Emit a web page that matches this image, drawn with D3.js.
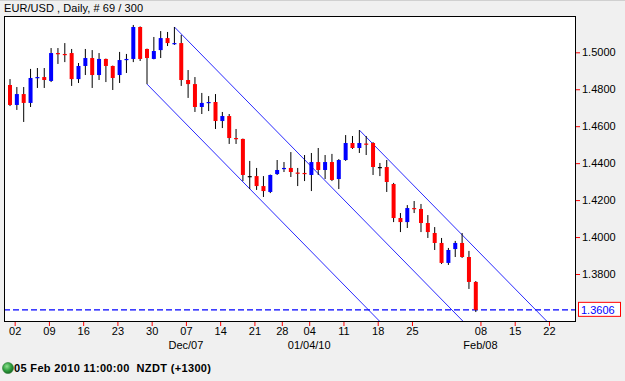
<!DOCTYPE html>
<html><head><meta charset="utf-8">
<script src="https://cdn.jsdelivr.net/npm/d3@7"></script>
<style>
html,body{margin:0;padding:0;background:#f0f0f0;}
svg{display:block;font-family:"Liberation Sans",Arial,sans-serif;}
</style></head><body>
<svg id="chart" width="625" height="381"></svg>
<script>
const title = "EUR/USD , Daily, # 69 / 300";
const footerText = "05 Feb 2010 11:00:00  NZDT (+1300)";
const opens = [1.4823,1.4715,1.4774,1.4726,1.4864,1.4866,1.4845,1.4996,1.4991,1.4996,
1.4855,1.4926,1.4969,1.4877,1.4964,1.4926,1.4877,1.4961,1.4964,1.5137,
1.5018,1.4964,1.5012,1.5077,1.5048,1.5050,1.4850,1.4828,1.4704,1.4728,
1.4731,1.4628,1.4655,1.4536,1.4531,1.4330,1.4330,1.4276,1.4244,1.4341,
1.4371,1.4374,1.4349,1.4347,1.4336,1.4406,1.4363,1.4406,1.4314,1.4417,
1.4509,1.4482,1.4506,1.4509,1.4379,1.4379,1.4287,1.4103,1.4081,1.4157,
1.4152,1.4076,1.4022,1.3968,1.3860,1.3935,1.3968,1.3892,1.3757];
const highs = [1.4855,1.4812,1.4812,1.4910,1.4915,1.4915,1.5023,1.5023,1.5050,1.5018,
1.4942,1.5018,1.5012,1.4996,1.4966,1.4928,1.5002,1.4991,1.5148,1.5140,
1.5020,1.5083,1.5115,1.5110,1.5137,1.5094,1.4904,1.4866,1.4780,1.4763,
1.4774,1.4677,1.4666,1.4585,1.4533,1.4412,1.4374,1.4330,1.4338,1.4417,
1.4406,1.4460,1.4374,1.4444,1.4455,1.4482,1.4444,1.4450,1.4422,1.4552,
1.4547,1.4579,1.4547,1.4514,1.4401,1.4417,1.4293,1.4130,1.4173,1.4195,
1.4179,1.4119,1.4054,1.3995,1.3941,1.3979,1.4022,1.3925,1.3762];
const lows = [1.4709,1.4688,1.4623,1.4704,1.4807,1.4807,1.4839,1.4937,1.4947,1.4818,
1.4834,1.4877,1.4807,1.4850,1.4839,1.4796,1.4834,1.4888,1.4947,1.4953,
1.4828,1.4962,1.4969,1.5034,1.5040,1.4818,1.4753,1.4677,1.4666,1.4682,
1.4585,1.4590,1.4504,1.4504,1.4303,1.4260,1.4255,1.4217,1.4238,1.4336,
1.4352,1.4325,1.4276,1.4303,1.4249,1.4336,1.4314,1.4303,1.4260,1.4412,
1.4477,1.4455,1.4444,1.4336,1.4330,1.4244,1.4081,1.4027,1.4049,1.4130,
1.4027,1.3995,1.3930,1.3854,1.3849,1.3892,1.3887,1.3719,1.3594];
const closes = [1.4715,1.4774,1.4726,1.4861,1.4866,1.4850,1.4996,1.4991,1.4988,1.4855,
1.4926,1.4969,1.4877,1.4964,1.4926,1.4861,1.4958,1.4964,1.5137,1.4964,
1.4969,1.5007,1.5077,1.5050,1.5050,1.4850,1.4828,1.4704,1.4726,1.4731,
1.4628,1.4655,1.4536,1.4533,1.4336,1.4330,1.4276,1.4249,1.4336,1.4363,
1.4374,1.4352,1.4347,1.4344,1.4406,1.4363,1.4406,1.4309,1.4417,1.4509,
1.4482,1.4509,1.4504,1.4379,1.4379,1.4298,1.4103,1.4081,1.4157,1.4155,
1.4076,1.4027,1.3968,1.3860,1.3930,1.3968,1.3892,1.3757,1.3606];
const lastPrice = 1.3606;
const yTicks = [1.38,1.40,1.42,1.44,1.46,1.48,1.50];
const tickIdx = [0,5,10,15,20,25,30,35,39,43,48,53,58,68,73,78];
const tickLabels = ["02","09","16","23","30","07","14","21","28","04","11","18","25","08","15","22"];
const subIdx = [25,43,68];
const subLabels = ["Dec/07","01/04/10","Feb/08"];
const channelStart = [20,24,51];
const channelPrice = [1.4828,1.5137,1.4579];
const channelSlope = -0.00378;

const svg = d3.select("#chart");
const L=4, T=16, R=576, B=322;
const x = d3.scaleLinear().domain([-0.876, 82.628]).range([L, R]);
const y = d3.scaleLinear().domain([1.35402, 1.51965]).range([B, T]);
const tickOffset = 0.68;

svg.append("rect").attr("width",625).attr("height",381).attr("fill","#f0f0f0");
svg.append("line").attr("x1",0).attr("x2",625).attr("y1",0.5).attr("y2",0.5).attr("stroke","#d0d0d0");
svg.append("rect").attr("x",L+0.5).attr("y",T+0.5).attr("width",R-L-1).attr("height",B-T-1)
  .attr("fill","#fff").attr("stroke","none");

svg.append("text").attr("x",4).attr("y",12).attr("font-size",11).attr("fill","#000")
  .attr("textLength",139).attr("lengthAdjust","spacing").text(title);

svg.append("clipPath").attr("id","clip").append("rect").attr("x",L).attr("y",T).attr("width",R-L).attr("height",B-T);
const plot = svg.append("g").attr("clip-path","url(#clip)");

// channel lines
const xEnd = 90;
channelStart.forEach((s,k)=>{
  plot.append("line")
    .attr("x1",x(s)).attr("y1",y(channelPrice[k]))
    .attr("x2",x(xEnd)).attr("y2",y(channelPrice[k] + channelSlope*(xEnd-s)))
    .attr("stroke","#2a2aff").attr("stroke-width",1);
});

// dashed last price line
plot.append("line").attr("x1",L).attr("x2",R).attr("y1",y(lastPrice)).attr("y2",y(lastPrice))
  .attr("stroke","#0000ff").attr("stroke-width",1.2).attr("stroke-dasharray","6,3");

const bars = d3.range(opens.length);
const col = i => closes[i] > opens[i] ? "#0000ff" : (closes[i] < opens[i] ? "#ff0000" : "#000");
plot.selectAll("line.wick").data(bars).join("line").attr("class","wick")
  .attr("x1",i=>x(i)).attr("x2",i=>x(i)).attr("y1",i=>y(highs[i])).attr("y2",i=>y(lows[i]))
  .attr("stroke","#000").attr("stroke-width",1);
plot.selectAll("rect.body").data(bars).join("rect").attr("class","body")
  .attr("x",i=>x(i)-2).attr("width",4)
  .attr("y",i=>y(Math.max(opens[i],closes[i])))
  .attr("height",i=>Math.max(1.2, Math.abs(y(opens[i])-y(closes[i]))))
  .attr("fill",col);

// border
svg.append("rect").attr("x",L+0.5).attr("y",T+0.5).attr("width",R-L-1).attr("height",B-T-1)
  .attr("fill","none").attr("stroke","#000");

// y axis
const ya = svg.append("g").attr("transform",`translate(${R},0)`)
  .call(d3.axisRight(y).tickValues(yTicks).tickSize(4).tickPadding(2).tickFormat(d3.format(".4f")));
ya.select(".domain").remove();
ya.selectAll(".tick line").attr("stroke","#ff0000");
ya.selectAll(".tick text").attr("font-size",11).attr("fill","#000").attr("font-family","Liberation Sans, Arial, sans-serif");

// last price box
const ly = y(lastPrice);
svg.append("rect").attr("x",578.5).attr("y",ly-7.5).attr("width",42).attr("height",14)
  .attr("fill","#fff").attr("stroke","#ff0000");
svg.append("text").attr("x",581).attr("y",ly+4).attr("font-size",11).attr("fill","#0000ff").text(d3.format(".4f")(lastPrice));

// x axis
const xa = svg.append("g").attr("transform",`translate(0,${B})`)
  .call(d3.axisBottom(x).tickValues(tickIdx.map(d=>d+tickOffset)).tickSize(4).tickPadding(1)
    .tickFormat((d,i)=>tickLabels[i]));
xa.select(".domain").remove();
xa.selectAll(".tick line").attr("stroke","#ff0000");
xa.selectAll(".tick text").attr("font-size",11).attr("fill","#000").attr("font-family","Liberation Sans, Arial, sans-serif");

svg.selectAll("text.sub").data(subIdx).join("text").attr("class","sub")
  .attr("x",d=>x(d+tickOffset)).attr("y",349).attr("text-anchor","middle")
  .attr("font-size",11).attr("fill","#000").text((d,i)=>subLabels[i]);

// footer
const defs = svg.append("defs");
const g = defs.append("radialGradient").attr("id","gball").attr("cx","40%").attr("cy","35%").attr("r","65%");
g.append("stop").attr("offset","0%").attr("stop-color","#8fe08f");
g.append("stop").attr("offset","60%").attr("stop-color","#2e9e3e");
g.append("stop").attr("offset","100%").attr("stop-color","#1a6b26");
svg.append("circle").attr("cx",8).attr("cy",368).attr("r",5.5).attr("fill","url(#gball)").attr("stroke","#2a7a33").attr("stroke-width",0.6);
svg.append("text").attr("x",14).attr("y",372).attr("font-size",11).attr("font-weight","bold").attr("fill","#000")
  .style("white-space","pre").attr("textLength",197).attr("lengthAdjust","spacing").text(footerText);
</script>
</body></html>
